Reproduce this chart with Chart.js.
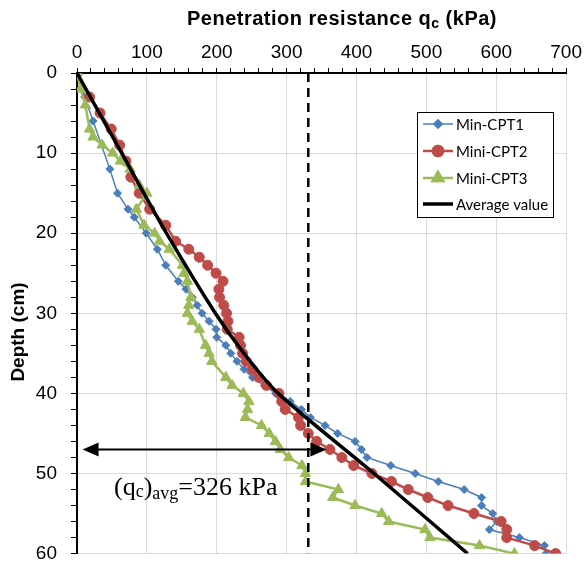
<!DOCTYPE html>
<html>
<head>
<meta charset="utf-8">
<script src="https://cdn.jsdelivr.net/npm/chart.js@4"></script>
<style>
  html, body { margin: 0; padding: 0; background: #fff; }
  #wrap { width: 586px; height: 579px; }
</style>
</head>
<body>
<div id="wrap"><canvas id="c" width="586" height="579"></canvas></div>
<script>
// values (qc in kPa, depth in cm)
const BLUE_DEPTH = [0,3,6,12,15,17,18,20,22,24,26,27,28,29,30,31,32,33,34,35,36,37,38,39,40,41,42,43,44,45,46,47,48,49,50,51,52,53,54,55,56,57,58,59,60];
const BLUE_QC = [0,11,23,47,58,73,82,99,115,127,145,156,165,172,179,189,199,200,213,220,229,239,251,268,284,305,321,334,355,373,398,407,415,449,484,517,554,579,579,595,601,590,633,669,671];

const RED_DEPTH = [0,3,5,7,9,11,13,15,17,19,21,22,23,24,25,26,27,28,29,30,31,32,33,34,35,36,37,38,39,40,41,42,43,44,45,46,47,48,49,50,51,52,53,54,55,56,57,58,59,60];
const RED_QC = [0,18,33,49,61,70,77,89,104,127,141,160,175,187,199,209,203,204,210,214,216,215,232,234,237,242,251,260,271,289,293,298,317,320,331,343,362,379,396,422,450,474,502,531,568,607,615,615,655,685];

const GREEN_DEPTH = [0,2,4,7,8,9,10,11,12,14,15,17,19,20,21,22,24,25,26,28,29,30,31,32,34,35,36,38,39,40,41,42,43,44,45,46,47,48,49,50,51,52,53,54,55,56,57,58,59,60];
const GREEN_QC = [0,5,12,18,23,36,51,62,76,89,100,85,96,111,118,132,151,153,158,163,160,158,165,175,184,189,193,213,222,238,246,244,241,264,275,284,291,303,322,327,327,374,366,398,436,446,498,505,576,626];

const AVG_DEPTH = [0,10,20,30,35,40,50,60];
const AVG_QC = [0,64,128,198,239,288,425,559];

const DASH_QC = [331, 331];
const DASH_DEPTH = [0, 60];

const ARROW_QC = [8, 357];
const ARROW_DEPTH = 47;
const LABEL_AT = { qc: 53, depth: 52.7 };

const X_TICKS = [0,100,200,300,400,500,600,700];
const Y_TICKS = [0,10,20,30,40,50,60];

const SERIES_NAMES = ["Min-CPT1", "Mini-CPT2", "Mini-CPT3", "Average value"];

const pts = (xs, ys) => xs.map((x, i) => ({ x, y: ys[i] }));

const SANS = '"Liberation Sans", Arial, sans-serif';
const SERIF = '"Liberation Serif", "Times New Roman", serif';

// draw a sequence of text runs (for subscripts)
function drawRuns(ctx, runs, x, y, align) {
  let total = 0;
  runs.forEach(r => { ctx.font = r.font; r.w = ctx.measureText(r.t).width; total += r.w; });
  let cx = align === "center" ? x - total / 2 : x;
  ctx.textAlign = "left";
  ctx.textBaseline = "alphabetic";
  runs.forEach(r => {
    ctx.font = r.font;
    ctx.fillText(r.t, cx, y + (r.dy || 0));
    cx += r.w;
  });
}

const overlay = {
  id: "overlay",
  afterDatasetsDraw(chart) {
    const { ctx, scales: { x, y } } = chart;
    ctx.save();
    ctx.fillStyle = "#000";
    ctx.strokeStyle = "#000";

    // double arrow
    const ay = y.getPixelForValue(ARROW_DEPTH);
    const x0 = x.getPixelForValue(ARROW_QC[0]);
    const x1 = x.getPixelForValue(ARROW_QC[1]);
    const hl = 16, hw = 7;
    ctx.lineWidth = 2;
    ctx.beginPath();
    ctx.moveTo(x0 + hl - 2, ay);
    ctx.lineTo(x1 - hl + 2, ay);
    ctx.stroke();
    ctx.beginPath();
    ctx.moveTo(x0, ay); ctx.lineTo(x0 + hl, ay - hw); ctx.lineTo(x0 + hl, ay + hw); ctx.closePath();
    ctx.fill();
    ctx.beginPath();
    ctx.moveTo(x1, ay); ctx.lineTo(x1 - hl, ay - hw); ctx.lineTo(x1 - hl, ay + hw); ctx.closePath();
    ctx.fill();

    // (qc)avg label
    const big = "26px " + SERIF, small = "18px " + SERIF;
    drawRuns(ctx, [
      { t: "(q", font: big },
      { t: "c", font: small, dy: 2 },
      { t: ")", font: big },
      { t: "avg", font: small, dy: 4 },
      { t: "=326 kPa", font: big }
    ], x.getPixelForValue(LABEL_AT.qc), y.getPixelForValue(LABEL_AT.depth), "left");

    // legend box
    const lx = 417, ly = 112, lw = 136, lh = 105;
    ctx.fillStyle = "#fff";
    ctx.fillRect(lx, ly, lw, lh);
    ctx.lineWidth = 1;
    ctx.strokeStyle = "#000";
    ctx.strokeRect(lx + 0.5, ly + 0.5, lw, lh);
    const rows = [124, 151, 178, 204];
    chart.data.datasets.slice(0, 4).forEach((ds, i) => {
      const ry = rows[i];
      ctx.strokeStyle = ds.borderColor;
      ctx.lineWidth = ds.borderWidth;
      ctx.beginPath();
      ctx.moveTo(423, ry);
      ctx.lineTo(453, ry);
      ctx.stroke();
      if (ds.pointRadius > 0) {
        Chart.helpers.drawPoint(ctx, {
          pointStyle: ds.pointStyle, radius: ds.pointRadius, rotation: 0, borderWidth: 1
        }, 438, ry);
        ctx.fillStyle = ds.backgroundColor;
        ctx.strokeStyle = ds.borderColor;
        ctx.fill();
        ctx.stroke();
      }
      ctx.fillStyle = "#000";
      ctx.font = "15px Lato, " + SANS;
      ctx.textAlign = "left";
      ctx.textBaseline = "middle";
      ctx.fillText(ds.label, 456, ry + 1);
    });
    ctx.restore();
  },
  afterDraw(chart) {
    const { ctx } = chart;
    ctx.save();
    ctx.fillStyle = "#000";
    ctx.letterSpacing = "0.5px";
    drawRuns(ctx, [
      { t: "Penetration resistance q", font: "bold 20px " + SANS },
      { t: "c", font: "bold 14px " + SANS, dy: 3 },
      { t: " (kPa)", font: "bold 20px " + SANS }
    ], 342, 25, "center");
    ctx.letterSpacing = "0px";
    ctx.translate(19, 332);
    ctx.rotate(-Math.PI / 2);
    ctx.font = "bold 19px " + SANS;
    ctx.textAlign = "center";
    ctx.textBaseline = "middle";
    ctx.fillText("Depth (cm)", 0, 0);
    ctx.restore();
  }
};

const gridColor = ctx => (ctx.tick && ctx.tick.value % 100 === 0 ? "#d9d9d9" : "rgba(0,0,0,0)");
const gridColorY = ctx => (ctx.tick && ctx.tick.value % 10 === 0 ? "#d9d9d9" : "rgba(0,0,0,0)");

new Chart(document.getElementById("c"), {
  type: "line",
  data: {
    datasets: [
      {
        label: SERIES_NAMES[0], data: pts(BLUE_QC, BLUE_DEPTH),
        borderColor: "#4a7ebb", backgroundColor: "#4a7ebb", borderWidth: 1.5,
        pointStyle: "rectRot", pointRadius: 4, pointBorderWidth: 1, order: 3
      },
      {
        label: SERIES_NAMES[1], data: pts(RED_QC, RED_DEPTH),
        borderColor: "#be4b48", backgroundColor: "#be4b48", borderWidth: 2.5,
        pointStyle: "circle", pointRadius: 5, pointBorderWidth: 1, order: 2
      },
      {
        label: SERIES_NAMES[2], data: pts(GREEN_QC, GREEN_DEPTH),
        borderColor: "#9bbb59", backgroundColor: "#9bbb59", borderWidth: 2.5,
        pointStyle: "triangle", pointRadius: 6, pointBorderWidth: 1, order: 1
      },
      {
        label: SERIES_NAMES[3], data: pts(AVG_QC, AVG_DEPTH),
        borderColor: "#000", backgroundColor: "#000", borderWidth: 3.5,
        pointRadius: 0, tension: 0.3, order: 0
      },
      {
        label: "dash", data: pts(DASH_QC, DASH_DEPTH),
        borderColor: "#000", borderWidth: 2.5, borderDash: [9, 6],
        pointRadius: 0, order: 0
      }
    ]
  },
  options: {
    responsive: false,
    animation: false,
    parsing: false,
    layout: { padding: { left: 0, top: 0, right: 19, bottom: 7 } },
    plugins: { legend: { display: false }, tooltip: { enabled: false }, title: { display: false } },
    scales: {
      x: {
        type: "linear", position: "top", min: X_TICKS[0], max: X_TICKS[X_TICKS.length - 1],
        afterFit: s => { s.height = 73; },
        ticks: {
          stepSize: 20, autoSkip: false, maxRotation: 0, padding: 4,
          color: "#000", font: { size: 19, family: SANS },
          callback: v => (X_TICKS.includes(v) ? String(v) : "")
        },
        grid: { color: gridColor, tickColor: "#000", tickLength: 5, lineWidth: 1 },
        border: { color: "#000", width: 2 }
      },
      y: {
        type: "linear", reverse: true, min: Y_TICKS[0], max: Y_TICKS[Y_TICKS.length - 1],
        afterFit: s => { s.width = 77; },
        ticks: {
          stepSize: 2, autoSkip: false, padding: 14,
          color: "#000", font: { size: 19, family: SANS },
          callback: v => (Y_TICKS.includes(v) ? String(v) : "")
        },
        grid: { color: gridColorY, tickColor: "#000", tickLength: 6, lineWidth: 1 },
        border: { color: "#000", width: 2 }
      }
    }
  },
  plugins: [overlay]
});
</script>
</body>
</html>
